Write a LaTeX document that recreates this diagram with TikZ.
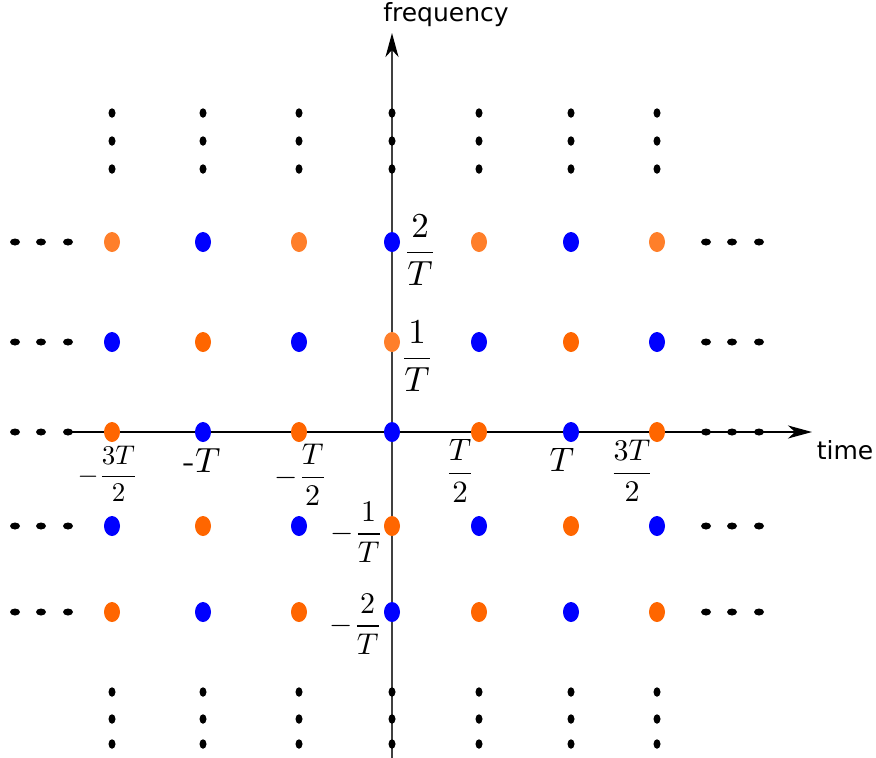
\documentclass[tikz,border=0pt]{standalone}
\usepackage{amsmath}
\usepackage{fontspec}
\newfontfamily\axisfont{DejaVu Sans}
\usetikzlibrary{arrows.meta,shapes.geometric}
\definecolor{dotblue}{HTML}{0000FF}
\definecolor{dotorange}{HTML}{FF6600}
\definecolor{lightorange}{HTML}{FF7F2A}
\tikzset{
  lattice/.style={ellipse, inner sep=0pt, minimum width=16pt, minimum height=20pt},
  hdot/.style={ellipse, fill=black, inner sep=0pt, minimum width=10pt, minimum height=7pt},
  vdot/.style={ellipse, fill=black, inner sep=0pt, minimum width=7pt, minimum height=9.5pt},
  axislabel/.style={font=\axisfont, inner sep=0pt, scale=2.5},
  ticklabel/.style={inner sep=0pt},
  axisline/.style={line width=1.8pt, -{Stealth[length=24pt,width=13pt,inset=7pt,black]}}
}
\begin{document}
\begin{tikzpicture}[x=1pt, y=-1pt]
    \useasboundingbox (0,0) rectangle (876,758);

    % axes
    \coordinate (t0) at (68,432);
    \coordinate (t1) at (812,432);
    \coordinate (f0) at (392,758);
    \coordinate (f1) at (392,33);
    \draw[axisline, black] (t0) -- (t1);
    \draw[axisline, black!75] (f0) -- (f1);
    \node[axislabel] (time) at (845,450) {time};
    \node[axislabel] (freq) at (446,15) {frequency};

    % lattice points
    \foreach \x [count=\i] in {112,203,299,392,479,571,657} {
      \foreach \y [count=\j] in {242,342,432,526,612} {
        \pgfmathtruncatemacro\s{mod(\i+\j,2)}
        \pgfmathtruncatemacro\l{(\j==1)||(\i==4 && \j==2)}
        \ifnum\s=1 \def\c{dotblue}\else\ifnum\l=1 \def\c{lightorange}\else\def\c{dotorange}\fi\fi
        \node[lattice, fill=\c] (d\i\j) at (\x,\y) {};
      }
    }

    % continuation dots
    \foreach \y [count=\j] in {242,342,432,526,612} {
      \foreach \x [count=\k] in {15,41,68,706,732,759}
        \node[hdot] (h\j\k) at (\x,\y) {};
    }
    \foreach \x [count=\i] in {112,203,299,392,479,571,657} {
      \foreach \y [count=\k] in {113,141,169,692,719,744}
        \node[vdot] (v\i\k) at (\x,\y) {};
    }

    % frequency ticks
    \node[ticklabel, scale=3.5] (p2) at (420,250) {$\dfrac{2}{T}$};
    \node[ticklabel, scale=3.5] (p1) at (417,356) {$\dfrac{1}{T}$};
    \node[ticklabel, scale=3.0] (m1) at (357,532) {$-\dfrac{1}{T}$};
    \node[ticklabel, scale=3.0] (m2) at (356,624) {$-\dfrac{2}{T}$};

    % time ticks
    \node[ticklabel, scale=2.7] (tm3) at (108,474) {$-\dfrac{3T}{2}$};
    \node[ticklabel, scale=3.5] (tm2) at (202,461) {-$T$};
    \node[ticklabel, scale=3.0] (tm1) at (301,475) {$-\dfrac{T}{2}$};
    \node[ticklabel, scale=3.1] (tp1) at (460,471) {$\dfrac{T}{2}$};
    \node[ticklabel, scale=3.4] (tp2) at (562,460) {$T$};
    \node[ticklabel, scale=3.0] (tp3) at (632,471) {$\dfrac{3T}{2}$};
\end{tikzpicture}
\end{document}
